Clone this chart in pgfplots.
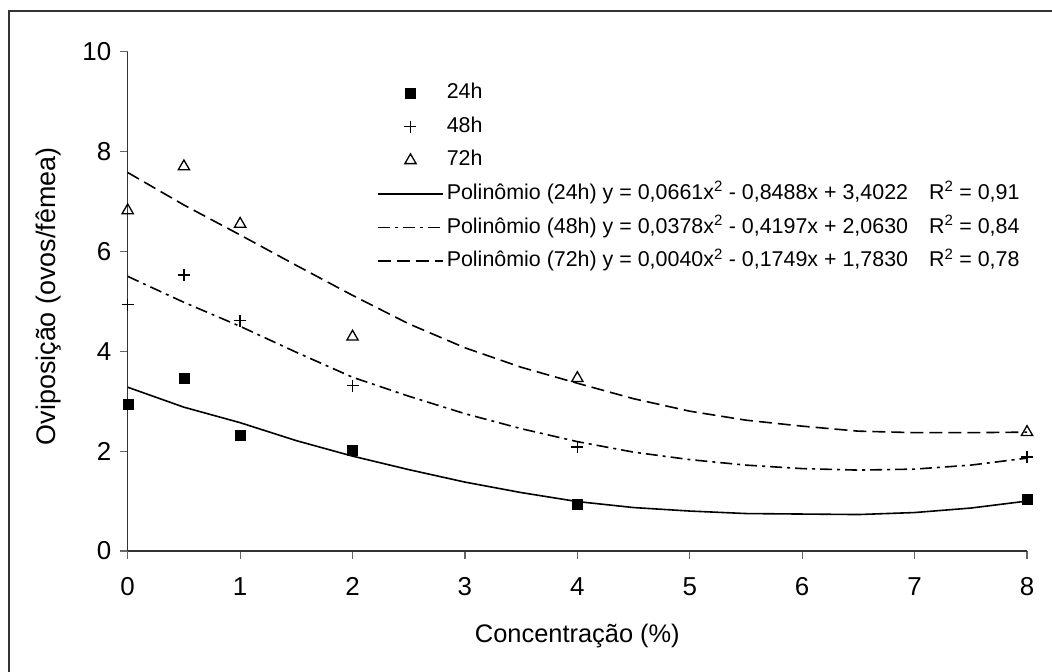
\documentclass[border=0pt]{standalone}
\usepackage{fontspec}
\setmainfont{Liberation Sans}
\usepackage{pgfplots}
\pgfplotsset{compat=1.18}
\begin{document}
\begin{tikzpicture}[x=1bp,y=1bp]
\useasboundingbox (0,0) rectangle (1052,672);
\draw[line width=2bp, black!80] (9,0) -- (9,661) -- (1052,661);
\begin{axis}[
  at={(127.7bp,121bp)}, anchor=south west,
  scale only axis, width=899.3bp, height=499.3bp,
  xmin=0, xmax=8, ymin=0, ymax=10,
  axis x line=bottom, axis y line=left,
  axis line style={-, line width=1.2bp, black!80},
  xtick={0,1,...,8}, ytick={0,2,...,10},
  tick align=outside, major tick length=8bp,
  tick style={line width=1.2bp, black!60},
  ticklabel style={font=\fontsize{26}{30}\selectfont},
  xticklabel style={yshift=-15bp},
  yticklabel style={xshift=-5bp},
  /pgf/number format/assume math mode=true,
  xlabel={Concentração (\%)}, ylabel={Oviposição (ovos/fêmea)},
  xlabel style={font=\fontsize{25.5}{30}\selectfont, at={(axis description cs:0.5,-0.1702)}, anchor=center},
  ylabel style={font=\fontsize{27}{30}\selectfont, at={(axis description cs:-0.0875,0.51)}, anchor=center},
  legend cell align=left,
  legend image code/.code={\draw[mark repeat=2,mark phase=2,#1] plot coordinates {(0bp,0bp)(32.5bp,0bp)(65bp,0bp)};},
  legend style={draw=none, fill=none, at={(0.2772,0.9363)}, anchor=north west,
    inner sep=0pt, row sep=14.6bp, font=\fontsize{21.5}{25}\selectfont,
    nodes={inner sep=0pt, text height=15bp, text depth=4bp},
    /tikz/every odd column/.append style={column sep=3bp}},
]
\addplot[only marks, mark=square*, mark size=5bp, black] coordinates {(0,2.94)(0.5,3.47)(1,2.31)(2,2.02)(4,0.94)(8,1.04)};
\addlegendentry{24h}
\addplot[only marks, mark=+, mark size=6bp, black, mark options={line width=1.3bp}] coordinates {(0,4.93)(0.5,5.53)(1,4.61)(2,3.31)(4,2.08)(8,1.88)};
\addlegendentry{48h}
\addplot[only marks, mark=triangle, mark size=6.5bp, black, mark options={line width=1.3bp}] coordinates {(0,6.82)(0.5,7.70)(1,6.55)(2,4.29)(4,3.46)(8,2.38)};
\addlegendentry{72h}
\addplot[black, line width=1.6bp, no marks] coordinates {(0,3.28)(0.5,2.88)(1,2.57)(1.5,2.21)(2,1.90)(2.5,1.63)(3,1.38)(3.5,1.17)(4,0.99)(4.5,0.87)(5,0.80)(5.5,0.75)(6,0.74)(6.5,0.73)(7,0.77)(7.5,0.86)(8,1.00)};
\addlegendentry{Polinômio (24h) y = 0,0661x\textsuperscript{2} - 0,8488x + 3,4022\hspace{21bp}R\textsuperscript{2} = 0,91}
\addplot[black, line width=1.6bp, no marks, dash pattern=on 12bp off 5bp on 3bp off 5bp] coordinates {(0,5.50)(0.5,4.98)(1,4.50)(1.5,3.98)(2,3.48)(2.5,3.10)(3,2.75)(3.5,2.45)(4,2.19)(4.5,1.98)(5,1.83)(5.5,1.72)(6,1.65)(6.5,1.62)(7,1.64)(7.5,1.72)(8,1.86)};
\addlegendentry{Polinômio (48h) y = 0,0378x\textsuperscript{2} - 0,4197x + 2,0630\hspace{21bp}R\textsuperscript{2} = 0,84}
\addplot[black, line width=1.6bp, no marks, dash pattern=on 13bp off 6bp] coordinates {(0,7.58)(0.5,6.93)(1,6.33)(1.5,5.72)(2,5.12)(2.5,4.55)(3,4.07)(3.5,3.68)(4,3.36)(4.5,3.05)(5,2.80)(5.5,2.62)(6,2.50)(6.5,2.40)(7,2.37)(7.5,2.37)(8,2.38)};
\addlegendentry{Polinômio (72h) y = 0,0040x\textsuperscript{2} - 0,1749x + 1,7830\hspace{21bp}R\textsuperscript{2} = 0,78}
\end{axis}
\end{tikzpicture}
\end{document}
